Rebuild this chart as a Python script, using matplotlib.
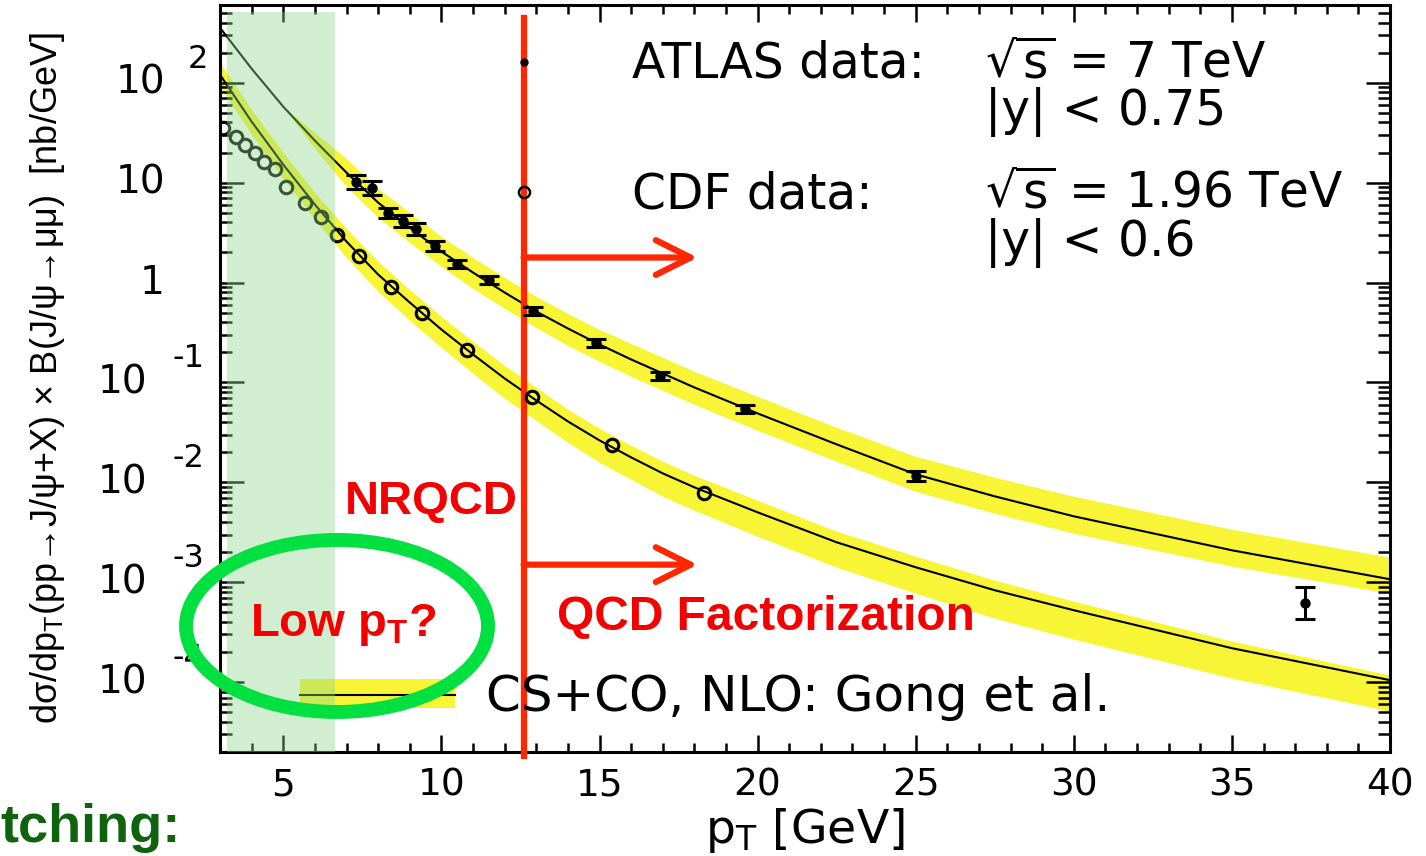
import numpy as np
import matplotlib
matplotlib.use("Agg")
import matplotlib.pyplot as plt
import matplotlib.transforms as mtransforms
from matplotlib.patches import Ellipse, Patch
from matplotlib.lines import Line2D
from matplotlib.ticker import FixedLocator, LogLocator, NullFormatter, MultipleLocator

plt.rcParams['font.family'] = ['DejaVu Sans']
plt.rcParams['mathtext.fontset'] = 'dejavusans'

# CS+CO NLO (Gong et al.) curves, log10 of nb/GeV, with band half widths
pt_theory = [3, 4, 5, 6, 7, 8, 9, 10, 11, 12, 13, 14, 15, 16, 17, 18, 20, 22.5, 25, 27.5, 30, 35, 40]
atlas_theory = [2.55, 2.14, 1.76, 1.42, 1.10, 0.80, 0.55, 0.31, 0.10, -0.10, -0.29, -0.46, -0.62, -0.77,
                -0.91, -1.05, -1.31, -1.62, -1.92, -2.14, -2.34, -2.68, -2.97]
atlas_up = [np.nan, np.nan, 0.0, 0.08, 0.14, 0.14, 0.15, 0.15, 0.15, 0.15, 0.15, 0.15, 0.15, 0.16,
            0.16, 0.16, 0.17, 0.17, 0.18, 0.19, 0.20, 0.21, 0.22]
atlas_dn = [np.nan, np.nan, 0.0, 0.08, 0.14, 0.15, 0.15, 0.15, 0.16, 0.16, 0.16, 0.17, 0.17, 0.17,
            0.17, 0.17, 0.17, 0.17, 0.17, 0.17, 0.17, 0.16, 0.14]
cdf_theory = [2.08, 1.61, 1.18, 0.78, 0.41, 0.08, -0.20, -0.47, -0.72, -0.96, -1.18, -1.39, -1.58, -1.75,
              -1.91, -2.05, -2.30, -2.60, -2.85, -3.08, -3.28, -3.66, -3.98]
cdf_up = [0.12, 0.12, 0.12, 0.12, 0.13, 0.13, 0.13, 0.13, 0.13, 0.13, 0.13, 0.12, 0.12, 0.12,
          0.12, 0.12, 0.12, 0.11, 0.11, 0.10, 0.09, 0.07, 0.05]
cdf_dn = [0.12, 0.13, 0.14, 0.15, 0.16, 0.17, 0.18, 0.18, 0.19, 0.20, 0.20, 0.21, 0.22, 0.22,
          0.23, 0.23, 0.24, 0.25, 0.26, 0.28, 0.29, 0.30, 0.31]

# ATLAS data, sqrt(s)=7 TeV, |y|<0.75 (error as log10 half width)
atlas_pt = [7.3, 7.8, 8.3, 8.8, 9.2, 9.8, 10.5, 11.5, 12.9, 14.9, 16.9, 19.6, 25.0, 37.3]
atlas_val = [10.2, 8.9, 5.0, 4.1, 3.4, 2.3, 1.55, 1.07, 0.52, 0.25, 0.115, 0.054, 0.0117, 6.2e-4]
atlas_lerr = [0.07, 0.07, 0.05, 0.06, 0.06, 0.05, 0.04, 0.04, 0.04, 0.04, 0.04, 0.04, 0.05, 0.16]

# CDF data, sqrt(s)=1.96 TeV, |y|<0.6
cdf_pt = [3.1, 3.5, 3.8, 4.1, 4.4, 4.75, 5.1, 5.7, 6.2, 6.7, 7.4, 8.4, 9.4, 10.8, 12.85, 15.4, 18.3]
cdf_val = [35.5, 28.8, 24.0, 20.0, 16.2, 13.8, 9.1, 6.3, 4.5, 3.0, 1.86, 0.91, 0.49, 0.21, 0.071, 0.0234, 0.0079]

xticks = [5, 10, 15, 20, 25, 30, 35, 40]
ytick_vals = [1e2, 1e1, 1e0, 1e-1, 1e-2, 1e-3, 1e-4]
ytick_base = ['10', '10', '1', '10', '10', '10', '10']
ytick_exp = ['2', '', '', '-1', '-2', '-3', '-4']

low_pt_region = (3.23, 6.65)
nrqcd_cut = 12.6
arrow_end = 18.1
arrow_y = [1.78, 1.5e-3]

yellow = '#f7f535'
red_line = '#ff2600'
red_text = '#f40000'

fig = plt.figure(figsize=(14.26, 8.56), dpi=100)
ax = fig.add_axes([0.1543, 0.1215, 0.8205, 0.8727])

pt = np.array(pt_theory)
for cen, up, dn in [(atlas_theory, atlas_up, atlas_dn), (cdf_theory, cdf_up, cdf_dn)]:
    cen = np.array(cen)
    ax.fill_between(pt, 10 ** (cen + np.array(up)), 10 ** (cen - np.array(dn)),
                    color=yellow, lw=0, zorder=1)
    ax.plot(pt, 10 ** cen, color='black', lw=1.5, zorder=2)

ax.plot(cdf_pt, cdf_val, 'o', mfc='none', mec='black', mew=2.2, ms=9, zorder=4)
av = np.array(atlas_val)
ae = np.array(atlas_lerr)
ax.errorbar(atlas_pt, av, yerr=[av * (1 - 10 ** -ae), av * (10 ** ae - 1)], fmt='o', color='black',
            ms=6.5, elinewidth=2.2, capsize=7, capthick=2.2, zorder=4)

# low pT region and matching annotations
ax.axvspan(*low_pt_region, ymin=0, ymax=0.99, color='#8fd68a', alpha=0.4, lw=0, zorder=5)
ax.axvline(nrqcd_cut, ymin=-0.006, ymax=0.983, color=red_line, lw=4.5, clip_on=False, zorder=3)
for y in arrow_y:
    ax.annotate('', xy=(arrow_end, y), xytext=(nrqcd_cut, y),
                arrowprops=dict(arrowstyle='->,head_length=1.0,head_width=0.5', lw=4.5, color=red_line,
                                mutation_scale=25, shrinkA=0, shrinkB=0, capstyle='round', joinstyle='round'),
                zorder=3)

ax.add_patch(Ellipse((0.100, 0.1687), 0.2581, 0.2303, transform=ax.transAxes, fill=False,
                     edgecolor='#00e040', lw=10, clip_on=False, zorder=7))

bold = dict(family='Liberation Sans', weight='bold', color=red_text, transform=ax.transAxes, va='baseline')
ax.text(0.1068, 0.3186, 'NRQCD', fontsize=34, zorder=6, **bold)
ax.text(0.288, 0.1633, 'QCD Factorization', fontsize=34.5, zorder=6, **bold)
ax.text(0.0256, 0.1553, r'Low p$_{\mathregular{T}}$?', fontsize=34, zorder=6, **bold)
fig.text(0.0, 0.0164, 'tching:', fontsize=39, family='Liberation Sans', weight='bold', color='#0e640e')

# legend block, top right
ax.plot([0.26], [0.9237], 'o', color='black', ms=5, transform=ax.transAxes, zorder=4)
ax.plot([0.26], [0.7497], 'o', mfc='none', mec='black', mew=1.8, ms=8, transform=ax.transAxes, zorder=4)
leg_kw = dict(transform=ax.transAxes, fontsize=35, va='baseline')
ax.text(0.352, 0.9023, 'ATLAS data:', **leg_kw)
ax.text(0.654, 0.9023, r'$\sqrt{\mathregular{s}}$ = 7 TeV', **leg_kw)
ax.text(0.654, 0.8394, '|y| < 0.75', **leg_kw)
ax.text(0.352, 0.7282, 'CDF data:', **leg_kw)
ax.text(0.654, 0.7282, r'$\sqrt{\mathregular{s}}$ = 1.96 TeV', **leg_kw)
ax.text(0.654, 0.664, '|y| < 0.6', **leg_kw)

leg = ax.legend(handles=[(Patch(facecolor=yellow, edgecolor='none'), Line2D([], [], color='black', lw=1.5))],
                labels=['CS+CO, NLO: Gong et al.'], loc='center left', bbox_to_anchor=(0.0684, 0.0736),
                frameon=False, fontsize=36, handlelength=3.1, handleheight=0.5, handletextpad=0.62,
                borderpad=0, borderaxespad=0)
leg.set_zorder(4)

# axes in ROOT style
ax.set_xlim(3, 40)
ax.set_yscale('log')
ax.set_ylim(2.0e-5, 600)
ax.xaxis.set_major_locator(FixedLocator(xticks))
ax.set_xticklabels([str(t) for t in xticks])
ax.xaxis.set_minor_locator(MultipleLocator(1))
ax.yaxis.set_major_locator(FixedLocator(ytick_vals))
ax.yaxis.set_minor_locator(LogLocator(base=10, subs=np.arange(2, 10), numticks=20))
ax.yaxis.set_major_formatter(NullFormatter())
ax.yaxis.set_minor_formatter(NullFormatter())
for s in ax.spines.values():
    s.set_linewidth(2.2)
ax.tick_params(which='both', direction='in', top=True, right=True, width=1.8)
ax.tick_params(axis='x', which='major', length=12, labelsize=27, pad=11)
ax.tick_params(axis='x', which='minor', length=6.5)
ax.tick_params(axis='y', which='major', length=17)
ax.tick_params(axis='y', which='minor', length=8.6)

ylab_tr = mtransforms.blended_transform_factory(ax.transAxes, ax.transData)
exp_tr = mtransforms.offset_copy(ylab_tr, fig=fig, y=17, units='points')
for val, base, ex in zip(ytick_vals, ytick_base, ytick_exp):
    neg = ex.startswith('-')
    ax.text(-0.0624 if neg else -0.047, val, base, transform=ylab_tr, ha='right', va='center', fontsize=28)
    if ex:
        ax.text(-0.041 if neg else -0.0274, val, ex, transform=exp_tr, ha='left', va='center', fontsize=23)

ax.set_xlabel(r'p$_{\mathregular{T}}$ [GeV]', fontsize=34)
ax.xaxis.set_label_coords(0.5, -0.072)
ax.set_ylabel(r'dσ/dp$_{\mathregular{T}}$(pp→J/ψ+X) × B(J/ψ→μμ)  [nb/GeV]', fontsize=26,
              family=['Liberation Sans', 'DejaVu Sans'])
ax.yaxis.set_label_coords(-0.131, 0.5)

fig.savefig('out.png', dpi=100)
